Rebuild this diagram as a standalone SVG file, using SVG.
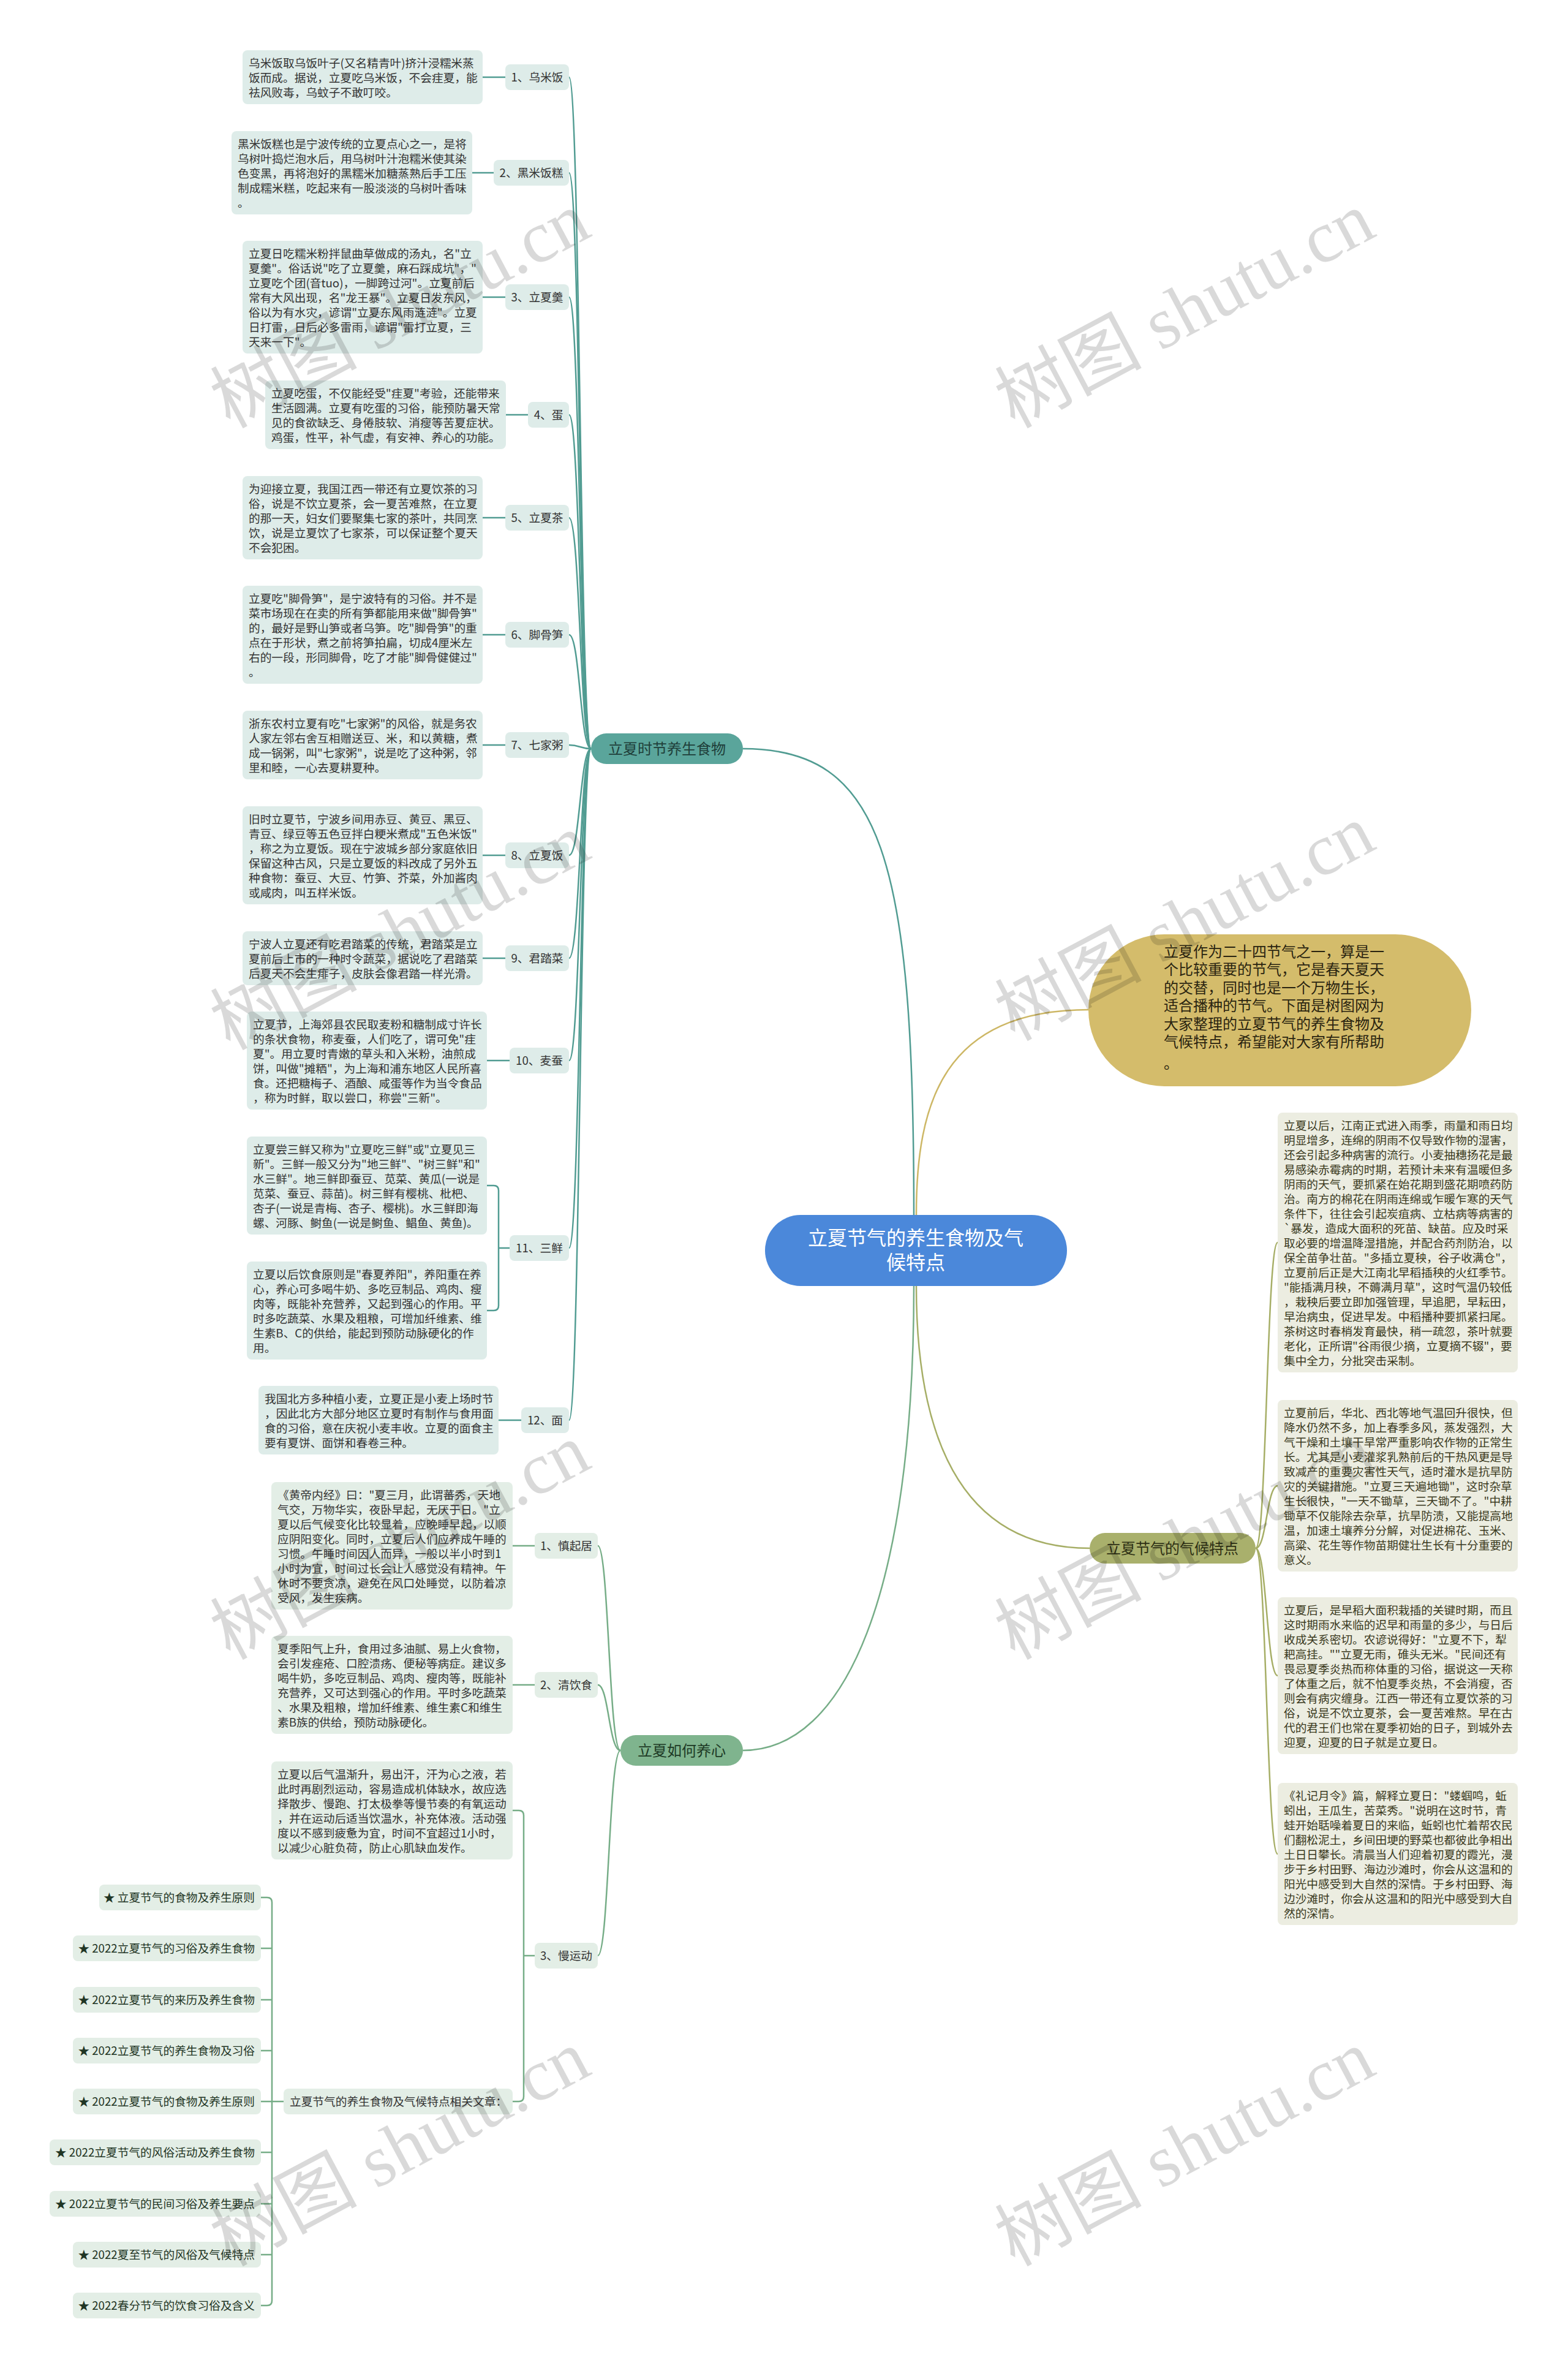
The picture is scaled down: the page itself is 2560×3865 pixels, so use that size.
<svg xmlns="http://www.w3.org/2000/svg" width="2560" height="3865" viewBox="0 0 2560 3865">
<style>
.f{font-family:"Noto Sans CJK SC","Noto Sans",sans-serif}
.bt{font-size:18.7px;fill:#333}
.ct{font-size:18.7px;fill:#3a391d}
.at{font-size:18.7px;fill:#1f3524;text-anchor:end}
.lt{font-size:18.7px;fill:#333;text-anchor:middle}
.fb{fill:#deece9}
.gb{fill:#e3eee6}
.cb{fill:#ecede1}
.tl{fill:none;stroke:#519c92;stroke-width:2.5}
.gl{fill:none;stroke:#76ad87;stroke-width:2.5}
.ol{fill:none;stroke:#a6ae66;stroke-width:2.5}
.yl{fill:none;stroke:#cdb765;stroke-width:2.5}
.bn{font-size:24px;text-anchor:middle}
.wm{font-family:"Liberation Serif","Noto Sans CJK SC",serif;font-size:120px;fill:#000;fill-opacity:.15}
</style>
<rect width="2560" height="3865" fill="#fff"/>
<g id="connectors">
<path class="tl" d="M1492,1983 C1492,1400 1440,1222 1213,1222"/>
<path class="gl" d="M1492,2099 C1492,2600 1380,2857 1213,2857"/>
<path class="yl" d="M1496,1983 C1496,1800 1540,1648 1779,1648"/>
<path class="ol" d="M1496,2099 C1496,2330 1560,2527 1779,2527"/>
<path class="tl" d="M929,126 C947,126 947,1222 965,1222"/>
<path class="tl" d="M929,282 C947,282 947,1222 965,1222"/>
<path class="tl" d="M929,485 C947,485 947,1222 965,1222"/>
<path class="tl" d="M929,677 C947,677 947,1222 965,1222"/>
<path class="tl" d="M929,845 C947,845 947,1222 965,1222"/>
<path class="tl" d="M929,1036 C947,1036 947,1222 965,1222"/>
<path class="tl" d="M929,1216 C947,1216 947,1222 965,1222"/>
<path class="tl" d="M929,1396 C947,1396 947,1222 965,1222"/>
<path class="tl" d="M929,1564 C947,1564 947,1222 965,1222"/>
<path class="tl" d="M929,1731 C947,1731 947,1222 965,1222"/>
<path class="tl" d="M929,2037 C947,2037 947,1222 965,1222"/>
<path class="tl" d="M929,2318 C947,2318 947,1222 965,1222"/>
<path class="tl" d="M788,126 H825 M771,282 H806 M788,485 H825 M826,677 H862 M788,845 H825 M788,1036 H825 M788,1216 H825 M788,1396 H825 M788,1564 H825 M795,1731 H832 M814,2318 H851"/>
<path class="tl" d="M795,1935 H806 Q814,1935 814,1943 V2131 Q814,2139 806,2139 H795 M814,2037 H832"/>
<path class="gl" d="M976,2523 C994,2523 994,2857 1013,2857"/>
<path class="gl" d="M976,2750 C994,2750 994,2857 1013,2857"/>
<path class="gl" d="M976,3192 C994,3192 994,2857 1013,2857"/>
<path class="gl" d="M837,2523 H873 M837,2750 H873"/>
<path class="gl" d="M837,2955 H847 Q855,2955 855,2963 V3422 Q855,3430 847,3430 H837 M855,3192 H873"/>
<path class="gl" d="M463,3430 H444 M426,3097 H436 Q444,3097 444,3105 V3755 Q444,3763 436,3763 H426 M426,3180 H444 M426,3264 H444 M426,3347 H444 M426,3430 H444 M426,3513 H444 M426,3597 H444 M426,3680 H444"/>
<path class="ol" d="M2050,2527 C2068,2527 2068,2028 2086,2028"/>
<path class="ol" d="M2050,2527 C2068,2527 2068,2425 2086,2425"/>
<path class="ol" d="M2050,2527 C2068,2527 2068,2735 2086,2735"/>
<path class="ol" d="M2050,2527 C2068,2527 2068,3026 2086,3026"/>
</g>
<g id="root"><rect x="1249" y="1983" width="493" height="116" rx="58" fill="#4b88da"/><text class="f" font-size="32" fill="#fff" text-anchor="middle"><tspan x="1495" y="2032">立夏节气的养生食物及气</tspan><tspan x="1495" y="2072">候特点</tspan></text></g>
<g id="branch-food"><rect x="965" y="1197" width="248" height="50" rx="25" fill="#5aa59b"/><text class="f bn" x="1089" y="1231" fill="#1f3f3a">立夏时节养生食物</text></g>
<g id="branch-heart"><rect x="1013" y="2832" width="200" height="50" rx="25" fill="#7fb48e"/><text class="f bn" x="1113" y="2866" fill="#1d3a25">立夏如何养心</text></g>
<g id="branch-climate"><rect x="1779" y="2502" width="271" height="50" rx="25" fill="#a9b06c"/><text class="f bn" x="1914" y="2536" fill="#2e3014">立夏节气的气候特点</text></g>
<g id="intro"><rect x="1777" y="1525" width="625" height="248" rx="124" fill="#d4bc6b"/><text class="f" font-size="24" fill="#2a2410"><tspan x="1900" y="1562">立夏作为二十四节气之一，算是一</tspan><tspan x="1900" y="1591">个比较重要的节气，它是春天夏天</tspan><tspan x="1900" y="1621">的交替，同时也是一个万物生长，</tspan><tspan x="1900" y="1650">适合播种的节气。下面是树图网为</tspan><tspan x="1900" y="1680">大家整理的立夏节气的养生食物及</tspan><tspan x="1900" y="1709">气候特点，希望能对大家有所帮助</tspan><tspan x="1900" y="1744">。</tspan></text></g>
<g id="food-1"><rect class="fb" x="825" y="105" width="104" height="42" rx="8"/><text class="f lt" x="877" y="133">1、乌米饭</text><rect class="fb" x="396" y="82" width="392" height="88" rx="8"/><text class="f bt"><tspan x="406" y="110">乌米饭取乌饭叶子(又名精青叶)挤汁浸糯米蒸</tspan><tspan x="406" y="134">饭而成。据说，立夏吃乌米饭，不会疰夏，能</tspan><tspan x="406" y="158">祛风败毒，乌蚊子不敢叮咬。</tspan></text></g>
<g id="food-2"><rect class="fb" x="806" y="261" width="123" height="42" rx="8"/><text class="f lt" x="867.5" y="289">2、黑米饭糕</text><rect class="fb" x="378" y="214" width="393" height="136" rx="8"/><text class="f bt"><tspan x="388" y="242">黑米饭糕也是宁波传统的立夏点心之一，是将</tspan><tspan x="388" y="266">乌树叶捣烂泡水后，用乌树叶汁泡糯米使其染</tspan><tspan x="388" y="290">色变黑，再将泡好的黑糯米加糖蒸熟后手工压</tspan><tspan x="388" y="314">制成糯米糕，吃起来有一股淡淡的乌树叶香味</tspan><tspan x="388" y="338">。</tspan></text></g>
<g id="food-3"><rect class="fb" x="825" y="464" width="104" height="42" rx="8"/><text class="f lt" x="877" y="492">3、立夏羹</text><rect class="fb" x="396" y="393" width="392" height="184" rx="8"/><text class="f bt"><tspan x="406" y="421">立夏日吃糯米粉拌鼠曲草做成的汤丸，名"立</tspan><tspan x="406" y="445">夏羹"。俗话说"吃了立夏羹，麻石踩成坑"，"</tspan><tspan x="406" y="469">立夏吃个团(音tuo)，一脚跨过河"。立夏前后</tspan><tspan x="406" y="493">常有大风出现，名"龙王暴"。立夏日发东风，</tspan><tspan x="406" y="517">俗以为有水灾，谚谓"立夏东风雨涟涟"。立夏</tspan><tspan x="406" y="541">日打雷，日后必多雷雨，谚谓"雷打立夏，三</tspan><tspan x="406" y="565">天来一下"。</tspan></text></g>
<g id="food-4"><rect class="fb" x="862" y="656" width="67" height="42" rx="8"/><text class="f lt" x="895.5" y="684">4、蛋</text><rect class="fb" x="433" y="621" width="393" height="112" rx="8"/><text class="f bt"><tspan x="443" y="649">立夏吃蛋，不仅能经受"疰夏"考验，还能带来</tspan><tspan x="443" y="673">生活圆满。立夏有吃蛋的习俗，能预防暑天常</tspan><tspan x="443" y="697">见的食欲缺乏、身倦肢软、消瘦等苦夏症状。</tspan><tspan x="443" y="721">鸡蛋，性平，补气虚，有安神、养心的功能。</tspan></text></g>
<g id="food-5"><rect class="fb" x="825" y="824" width="104" height="42" rx="8"/><text class="f lt" x="877" y="852">5、立夏茶</text><rect class="fb" x="396" y="777" width="392" height="136" rx="8"/><text class="f bt"><tspan x="406" y="805">为迎接立夏，我国江西一带还有立夏饮茶的习</tspan><tspan x="406" y="829">俗，说是不饮立夏茶，会一夏苦难熬，在立夏</tspan><tspan x="406" y="853">的那一天，妇女们要聚集七家的茶叶，共同烹</tspan><tspan x="406" y="877">饮，说是立夏饮了七家茶，可以保证整个夏天</tspan><tspan x="406" y="901">不会犯困。</tspan></text></g>
<g id="food-6"><rect class="fb" x="825" y="1015" width="104" height="42" rx="8"/><text class="f lt" x="877" y="1043">6、脚骨笋</text><rect class="fb" x="396" y="956" width="392" height="160" rx="8"/><text class="f bt"><tspan x="406" y="984">立夏吃"脚骨笋"，是宁波特有的习俗。并不是</tspan><tspan x="406" y="1008">菜市场现在在卖的所有笋都能用来做"脚骨笋"</tspan><tspan x="406" y="1032">的，最好是野山笋或者乌笋。吃"脚骨笋"的重</tspan><tspan x="406" y="1056">点在于形状，煮之前将笋拍扁，切成4厘米左</tspan><tspan x="406" y="1080">右的一段，形同脚骨，吃了才能"脚骨健健过"</tspan><tspan x="406" y="1104">。</tspan></text></g>
<g id="food-7"><rect class="fb" x="825" y="1195" width="104" height="42" rx="8"/><text class="f lt" x="877" y="1223">7、七家粥</text><rect class="fb" x="396" y="1160" width="392" height="112" rx="8"/><text class="f bt"><tspan x="406" y="1188">浙东农村立夏有吃"七家粥"的风俗，就是务农</tspan><tspan x="406" y="1212">人家左邻右舍互相赠送豆、米，和以黄糖，煮</tspan><tspan x="406" y="1236">成一锅粥，叫"七家粥"，说是吃了这种粥，邻</tspan><tspan x="406" y="1260">里和睦，一心去夏耕夏种。</tspan></text></g>
<g id="food-8"><rect class="fb" x="825" y="1375" width="104" height="42" rx="8"/><text class="f lt" x="877" y="1403">8、立夏饭</text><rect class="fb" x="396" y="1316" width="392" height="160" rx="8"/><text class="f bt"><tspan x="406" y="1344">旧时立夏节，宁波乡间用赤豆、黄豆、黑豆、</tspan><tspan x="406" y="1368">青豆、绿豆等五色豆拌白粳米煮成"五色米饭"</tspan><tspan x="406" y="1392">，称之为立夏饭。现在宁波城乡部分家庭依旧</tspan><tspan x="406" y="1416">保留这种古风，只是立夏饭的料改成了另外五</tspan><tspan x="406" y="1440">种食物：蚕豆、大豆、竹笋、芥菜，外加酱肉</tspan><tspan x="406" y="1464">或咸肉，叫五样米饭。</tspan></text></g>
<g id="food-9"><rect class="fb" x="825" y="1543" width="104" height="42" rx="8"/><text class="f lt" x="877" y="1571">9、君踏菜</text><rect class="fb" x="396" y="1520" width="392" height="88" rx="8"/><text class="f bt"><tspan x="406" y="1548">宁波人立夏还有吃君踏菜的传统，君踏菜是立</tspan><tspan x="406" y="1572">夏前后上市的一种时令蔬菜，据说吃了君踏菜</tspan><tspan x="406" y="1596">后夏天不会生痱子，皮肤会像君踏一样光滑。</tspan></text></g>
<g id="food-10"><rect class="fb" x="832" y="1710" width="97" height="42" rx="8"/><text class="f lt" x="880.5" y="1738">10、麦蚕</text><rect class="fb" x="403" y="1651" width="392" height="160" rx="8"/><text class="f bt"><tspan x="413" y="1679">立夏节，上海郊县农民取麦粉和糖制成寸许长</tspan><tspan x="413" y="1703">的条状食物，称麦蚕，人们吃了，谓可免"疰</tspan><tspan x="413" y="1727">夏"。用立夏时青嫩的草头和入米粉，油煎成</tspan><tspan x="413" y="1751">饼，叫做"摊粞"，为上海和浦东地区人民所喜</tspan><tspan x="413" y="1775">食。还把糖梅子、酒酿、咸蛋等作为当令食品</tspan><tspan x="413" y="1799">，称为时鲜，取以尝口，称尝"三新"。</tspan></text></g>
<g id="food-11"><rect class="fb" x="832" y="2016" width="97" height="42" rx="8"/><text class="f lt" x="880.5" y="2044">11、三鲜</text><rect class="fb" x="403" y="1855" width="392" height="160" rx="8"/><text class="f bt"><tspan x="413" y="1883">立夏尝三鲜又称为"立夏吃三鲜"或"立夏见三</tspan><tspan x="413" y="1907">新"。三鲜一般又分为"地三鲜"、"树三鲜"和"</tspan><tspan x="413" y="1931">水三鲜"。地三鲜即蚕豆、苋菜、黄瓜(一说是</tspan><tspan x="413" y="1955">苋菜、蚕豆、蒜苗)。树三鲜有樱桃、枇杷、</tspan><tspan x="413" y="1979">杏子(一说是青梅、杏子、樱桃)。水三鲜即海</tspan><tspan x="413" y="2003">螺、河豚、鲥鱼(一说是鲥鱼、鲳鱼、黄鱼)。</tspan></text><rect class="fb" x="403" y="2059" width="392" height="160" rx="8"/><text class="f bt"><tspan x="413" y="2087">立夏以后饮食原则是"春夏养阳"，养阳重在养</tspan><tspan x="413" y="2111">心，养心可多喝牛奶、多吃豆制品、鸡肉、瘦</tspan><tspan x="413" y="2135">肉等，既能补充营养，又起到强心的作用。平</tspan><tspan x="413" y="2159">时多吃蔬菜、水果及粗粮，可增加纤维素、维</tspan><tspan x="413" y="2183">生素B、C的供给，能起到预防动脉硬化的作</tspan><tspan x="413" y="2207">用。</tspan></text></g>
<g id="food-12"><rect class="fb" x="851" y="2297" width="78" height="42" rx="8"/><text class="f lt" x="890" y="2325">12、面</text><rect class="fb" x="422" y="2262" width="392" height="112" rx="8"/><text class="f bt"><tspan x="432" y="2290">我国北方多种植小麦，立夏正是小麦上场时节</tspan><tspan x="432" y="2314">，因此北方大部分地区立夏时有制作与食用面</tspan><tspan x="432" y="2338">食的习俗，意在庆祝小麦丰收。立夏的面食主</tspan><tspan x="432" y="2362">要有夏饼、面饼和春卷三种。</tspan></text></g>
<g id="heart-1"><rect class="gb" x="873" y="2502" width="103" height="42" rx="8"/><text class="f lt" x="924.5" y="2530">1、慎起居</text><rect class="gb" x="443" y="2419" width="394" height="208" rx="8"/><text class="f bt"><tspan x="453" y="2447">《黄帝内经》曰："夏三月，此谓蕃秀，天地</tspan><tspan x="453" y="2471">气交，万物华实，夜卧早起，无厌于日。"立</tspan><tspan x="453" y="2495">夏以后气候变化比较显着，应晚睡早起，以顺</tspan><tspan x="453" y="2519">应阴阳变化。同时，立夏后人们应养成午睡的</tspan><tspan x="453" y="2543">习惯。午睡时间因人而异，一般以半小时到1</tspan><tspan x="453" y="2567">小时为宜，时间过长会让人感觉没有精神。午</tspan><tspan x="453" y="2591">休时不要贪凉，避免在风口处睡觉，以防着凉</tspan><tspan x="453" y="2615">受风，发生疾病。</tspan></text></g>
<g id="heart-2"><rect class="gb" x="873" y="2729" width="103" height="42" rx="8"/><text class="f lt" x="924.5" y="2757">2、清饮食</text><rect class="gb" x="443" y="2670" width="394" height="160" rx="8"/><text class="f bt"><tspan x="453" y="2698">夏季阳气上升，食用过多油腻、易上火食物，</tspan><tspan x="453" y="2722">会引发痤疮、口腔溃疡、便秘等病症。建议多</tspan><tspan x="453" y="2746">喝牛奶，多吃豆制品、鸡肉、瘦肉等，既能补</tspan><tspan x="453" y="2770">充营养，又可达到强心的作用。平时多吃蔬菜</tspan><tspan x="453" y="2794">、水果及粗粮，增加纤维素、维生素C和维生</tspan><tspan x="453" y="2818">素B族的供给，预防动脉硬化。</tspan></text></g>
<g id="heart-3"><rect class="gb" x="873" y="3171" width="103" height="42" rx="8"/><text class="f lt" x="924.5" y="3199">3、慢运动</text><rect class="gb" x="443" y="2875" width="394" height="160" rx="8"/><text class="f bt"><tspan x="453" y="2903">立夏以后气温渐升，易出汗，汗为心之液，若</tspan><tspan x="453" y="2927">此时再剧烈运动，容易造成机体缺水，故应选</tspan><tspan x="453" y="2951">择散步、慢跑、打太极拳等慢节奏的有氧运动</tspan><tspan x="453" y="2975">，并在运动后适当饮温水，补充体液。活动强</tspan><tspan x="453" y="2999">度以不感到疲惫为宜，时间不宜超过1小时，</tspan><tspan x="453" y="3023">以减少心脏负荷，防止心肌缺血发作。</tspan></text></g>
<g id="related"><rect class="gb" x="463" y="3409" width="374" height="42" rx="8"/><text class="f bt" x="473" y="3437">立夏节气的养生食物及气候特点相关文章：</text></g>
<g id="articles">
<rect class="gb" x="162" y="3076" width="264" height="42" rx="8"/><text class="f at" x="416" y="3104">★ 立夏节气的食物及养生原则</text>
<rect class="gb" x="119" y="3159" width="307" height="42" rx="8"/><text class="f at" x="416" y="3187">★ 2022立夏节气的习俗及养生食物</text>
<rect class="gb" x="119" y="3243" width="307" height="42" rx="8"/><text class="f at" x="416" y="3271">★ 2022立夏节气的来历及养生食物</text>
<rect class="gb" x="119" y="3326" width="307" height="42" rx="8"/><text class="f at" x="416" y="3354">★ 2022立夏节气的养生食物及习俗</text>
<rect class="gb" x="119" y="3409" width="307" height="42" rx="8"/><text class="f at" x="416" y="3437">★ 2022立夏节气的食物及养生原则</text>
<rect class="gb" x="81" y="3492" width="345" height="42" rx="8"/><text class="f at" x="416" y="3520">★ 2022立夏节气的风俗活动及养生食物</text>
<rect class="gb" x="81" y="3576" width="345" height="42" rx="8"/><text class="f at" x="416" y="3604">★ 2022立夏节气的民间习俗及养生要点</text>
<rect class="gb" x="119" y="3659" width="307" height="42" rx="8"/><text class="f at" x="416" y="3687">★ 2022夏至节气的风俗及气候特点</text>
<rect class="gb" x="119" y="3742" width="307" height="42" rx="8"/><text class="f at" x="416" y="3770">★ 2022春分节气的饮食习俗及含义</text>
</g>
<g id="climate-1"><rect class="cb" x="2086" y="1816" width="392" height="424" rx="8"/><text class="f ct"><tspan x="2096" y="1844">立夏以后，江南正式进入雨季，雨量和雨日均</tspan><tspan x="2096" y="1868">明显增多，连绵的阴雨不仅导致作物的湿害，</tspan><tspan x="2096" y="1892">还会引起多种病害的流行。小麦抽穗扬花是最</tspan><tspan x="2096" y="1916">易感染赤霉病的时期，若预计未来有温暖但多</tspan><tspan x="2096" y="1940">阴雨的天气，要抓紧在始花期到盛花期喷药防</tspan><tspan x="2096" y="1964">治。南方的棉花在阴雨连绵或乍暖乍寒的天气</tspan><tspan x="2096" y="1988">条件下，往往会引起炭疽病、立枯病等病害的</tspan><tspan x="2096" y="2012">`暴发，造成大面积的死苗、缺苗。应及时采</tspan><tspan x="2096" y="2036">取必要的增温降湿措施，并配合药剂防治，以</tspan><tspan x="2096" y="2060">保全苗争壮苗。"多插立夏秧，谷子收满仓"，</tspan><tspan x="2096" y="2084">立夏前后正是大江南北早稻插秧的火红季节。</tspan><tspan x="2096" y="2108">"能插满月秧，不薅满月草"，这时气温仍较低</tspan><tspan x="2096" y="2132">，栽秧后要立即加强管理，早追肥，早耘田，</tspan><tspan x="2096" y="2156">早治病虫，促进早发。中稻播种要抓紧扫尾。</tspan><tspan x="2096" y="2180">茶树这时春梢发育最快，稍一疏忽，茶叶就要</tspan><tspan x="2096" y="2204">老化，正所谓"谷雨很少摘，立夏摘不辍"，要</tspan><tspan x="2096" y="2228">集中全力，分批突击采制。</tspan></text></g>
<g id="climate-2"><rect class="cb" x="2086" y="2285" width="392" height="280" rx="8"/><text class="f ct"><tspan x="2096" y="2313">立夏前后，华北、西北等地气温回升很快，但</tspan><tspan x="2096" y="2337">降水仍然不多，加上春季多风，蒸发强烈，大</tspan><tspan x="2096" y="2361">气干燥和土壤干旱常严重影响农作物的正常生</tspan><tspan x="2096" y="2385">长。尤其是小麦灌浆乳熟前后的干热风更是导</tspan><tspan x="2096" y="2409">致减产的重要灾害性天气，适时灌水是抗旱防</tspan><tspan x="2096" y="2433">灾的关键措施。"立夏三天遍地锄"，这时杂草</tspan><tspan x="2096" y="2457">生长很快，"一天不锄草，三天锄不了。"中耕</tspan><tspan x="2096" y="2481">锄草不仅能除去杂草，抗旱防渍，又能提高地</tspan><tspan x="2096" y="2505">温，加速土壤养分分解，对促进棉花、玉米、</tspan><tspan x="2096" y="2529">高粱、花生等作物苗期健壮生长有十分重要的</tspan><tspan x="2096" y="2553">意义。</tspan></text></g>
<g id="climate-3"><rect class="cb" x="2086" y="2607" width="392" height="256" rx="8"/><text class="f ct"><tspan x="2096" y="2635">立夏后，是早稻大面积栽插的关键时期，而且</tspan><tspan x="2096" y="2659">这时期雨水来临的迟早和雨量的多少，与日后</tspan><tspan x="2096" y="2683">收成关系密切。农谚说得好："立夏不下，犁</tspan><tspan x="2096" y="2707">耙高挂。""立夏无雨，碓头无米。"民间还有</tspan><tspan x="2096" y="2731">畏忌夏季炎热而称体重的习俗，据说这一天称</tspan><tspan x="2096" y="2755">了体重之后，就不怕夏季炎热，不会消瘦，否</tspan><tspan x="2096" y="2779">则会有病灾缠身。江西一带还有立夏饮茶的习</tspan><tspan x="2096" y="2803">俗，说是不饮立夏茶，会一夏苦难熬。早在古</tspan><tspan x="2096" y="2827">代的君王们也常在夏季初始的日子，到城外去</tspan><tspan x="2096" y="2851">迎夏，迎夏的日子就是立夏日。</tspan></text></g>
<g id="climate-4"><rect class="cb" x="2086" y="2910" width="392" height="232" rx="8"/><text class="f ct"><tspan x="2096" y="2938">《礼记月令》篇，解释立夏日："蝼蝈鸣，蚯</tspan><tspan x="2096" y="2962">蚓出，王瓜生，苦菜秀。"说明在这时节，青</tspan><tspan x="2096" y="2986">蛙开始聒噪着夏日的来临，蚯蚓也忙着帮农民</tspan><tspan x="2096" y="3010">们翻松泥土，乡间田埂的野菜也都彼此争相出</tspan><tspan x="2096" y="3034">土日日攀长。清晨当人们迎着初夏的霞光，漫</tspan><tspan x="2096" y="3058">步于乡村田野、海边沙滩时，你会从这温和的</tspan><tspan x="2096" y="3082">阳光中感受到大自然的深情。于乡村田野、海</tspan><tspan x="2096" y="3106">边沙滩时，你会从这温和的阳光中感受到大自</tspan><tspan x="2096" y="3130">然的深情。</tspan></text></g>
<g id="watermarks">
<text class="wm" transform="translate(375,700) rotate(-28)">树图 shutu.cn</text>
<text class="wm" transform="translate(1656,700) rotate(-28)">树图 shutu.cn</text>
<text class="wm" transform="translate(375,1715) rotate(-28)">树图 shutu.cn</text>
<text class="wm" transform="translate(1656,1700) rotate(-28)">树图 shutu.cn</text>
<text class="wm" transform="translate(375,2710) rotate(-28)">树图 shutu.cn</text>
<text class="wm" transform="translate(1656,2710) rotate(-28)">树图 shutu.cn</text>
<text class="wm" transform="translate(375,3700) rotate(-28)">树图 shutu.cn</text>
<text class="wm" transform="translate(1656,3700) rotate(-28)">树图 shutu.cn</text>
</g>
</svg>
